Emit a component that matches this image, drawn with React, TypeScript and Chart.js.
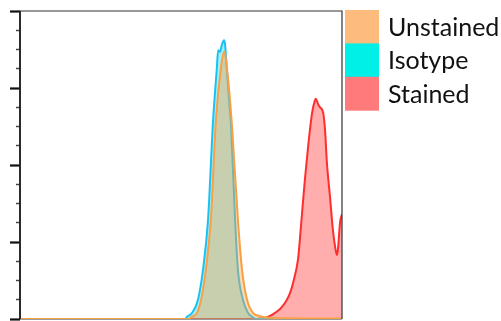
import React, { useEffect, useRef } from "react";
import { Chart, registerables } from "chart.js";

Chart.register(...registerables);

// Series labels and legend swatch colours
const seriesLabels = ["Unstained", "Isotype", "Stained"];
const legendColors = ["#fdbb7e", "#00efe6", "#ff7b7b"];
const lineColors = ["#f8a044", "#1ac2f3", "#ff2e2e"];
const fillColors = ["rgba(250,160,70,0.40)", "rgba(0,205,225,0.35)", "rgba(255,40,40,0.38)"];

// Fluorescence channel (0..1024) and event counts
const unstainedX = [0, 534, 547, 563, 576, 591, 607, 623, 639, 649, 652, 658, 668, 674, 693, 706, 722, 741, 770, 811, 900, 1024];
const unstainedY = [0, 0, 3, 8, 25, 64, 129, 258, 326, 347, 345, 326, 284, 252, 129, 64, 25, 8, 3, 1.3, 0.8, 0.8];

const isotypeX = [0, 525, 531, 547, 566, 582, 598, 614, 626, 630, 636, 642, 649, 652, 658, 665, 671, 684, 693, 709, 725, 738, 750, 1024];
const isotypeY = [0, 0, 3, 8, 25, 64, 129, 258, 326, 349, 347, 356, 362, 357, 323, 284, 252, 129, 64, 25, 8, 3, 0, 0];

const stainedX = [0, 747, 763, 779, 795, 811, 827, 843, 859, 871, 884, 890, 897, 906, 916, 929, 938, 941, 948, 954, 964, 970, 976, 986, 995, 1002, 1008, 1011, 1018, 1024];
const stainedY = [0, 0, 0.6, 1.3, 4, 8, 13, 21, 34, 51, 77, 103, 138, 181, 223, 268, 284, 286, 279, 275, 268, 246, 203, 158, 116, 94, 83, 90, 126, 136];

// Axis ranges and tick steps
const xRange = [0, 1024];
const yRange = [0, 400];
const yMajorStep = 100;
const yMinorStep = 25;

const toPoints = (xs: number[], ys: number[]) => xs.map((x, i) => ({ x, y: ys[i] }));

const framePlugin = {
  id: "frame",
  beforeDatasetsDraw(chart: any) {
    const { ctx, chartArea } = chart;
    ctx.save();
    ctx.strokeStyle = "#3a3a3a";
    ctx.lineWidth = 1.2;
    ctx.beginPath();
    ctx.moveTo(chartArea.left, chartArea.bottom);
    ctx.lineTo(chartArea.right, chartArea.bottom);
    ctx.stroke();
    ctx.restore();
  },
  afterDatasetsDraw(chart: any) {
    const { ctx, chartArea } = chart;
    ctx.save();
    ctx.strokeStyle = "#333";
    ctx.lineWidth = 1.2;
    ctx.beginPath();
    ctx.moveTo(chartArea.left, chartArea.bottom);
    ctx.lineTo(chartArea.left, chartArea.top);
    ctx.lineTo(chartArea.right, chartArea.top);
    ctx.lineTo(chartArea.right, chartArea.bottom);
    ctx.stroke();
    ctx.lineWidth = 1.8;
    ctx.strokeStyle = "#222";
    ctx.beginPath();
    ctx.moveTo(chartArea.left, chartArea.bottom);
    ctx.lineTo(chartArea.left, chartArea.top);
    ctx.stroke();
    ctx.restore();
  },
};

const legendPlugin = {
  id: "blockLegend",
  afterDraw(chart: any) {
    const { ctx, chartArea } = chart;
    const boxX = chartArea.right + 3;
    const boxW = 34;
    const boxH = 33.4;
    const top = chartArea.top - 1;
    ctx.save();
    ctx.font = '25px "Lato", "Open Sans", sans-serif';
    ctx.textBaseline = "alphabetic";
    ctx.fillStyle = "#111";
    chart.data.datasets.forEach((ds: any, i: number) => {
      const y = top + i * boxH;
      ctx.fillStyle = legendColors[i];
      ctx.fillRect(boxX, y, boxW, boxH + 0.5);
      ctx.fillStyle = "#111";
      ctx.fillText(ds.label, boxX + 43, y + boxH / 2 + 9);
    });
    ctx.restore();
  },
};

export default function App() {
  const canvasRef = useRef<HTMLCanvasElement | null>(null);

  useEffect(() => {
    const canvas = canvasRef.current;
    if (!canvas) return;
    const seriesX = [unstainedX, isotypeX, stainedX];
    const seriesY = [unstainedY, isotypeY, stainedY];
    const chart = new Chart(canvas, {
      type: "line",
      data: {
        datasets: seriesLabels.map((label, i) => ({
          label,
          data: toPoints(seriesX[i], seriesY[i]),
          borderColor: lineColors[i],
          backgroundColor: fillColors[i],
          borderWidth: 2,
          fill: "origin",
          pointRadius: 0,
          tension: 0.3,
          cubicInterpolationMode: "monotone",
        })),
      },
      options: {
        animation: false,
        responsive: true,
        maintainAspectRatio: false,
        layout: { padding: { left: 20, top: 11, right: 159, bottom: 2 } },
        plugins: { legend: { display: false }, tooltip: { enabled: false } },
        scales: {
          x: {
            type: "linear",
            min: xRange[0],
            max: xRange[1],
            ticks: { display: false },
            grid: { display: false, drawTicks: false },
            border: { display: false },
          },
          y: {
            type: "linear",
            position: "left",
            min: yRange[0],
            max: yRange[1],
            ticks: { display: false, stepSize: yMajorStep },
            grid: {
              drawOnChartArea: false,
              drawTicks: true,
              tickLength: 10,
              tickWidth: 2.2,
              tickColor: "#111",
            },
            border: { display: false },
            afterFit(scale: any) {
              scale.width = 0;
            },
          },
          yMinor: {
            type: "linear",
            position: "left",
            min: yRange[0],
            max: yRange[1],
            ticks: { display: false, stepSize: yMinorStep },
            grid: {
              drawOnChartArea: false,
              drawTicks: true,
              tickLength: 4,
              tickWidth: 1.5,
              tickColor: (c: any) => (c.tick && c.tick.value % yMajorStep === 0 ? "rgba(0,0,0,0)" : "#444"),
            },
            border: { display: false },
            afterFit(scale: any) {
              scale.width = 0;
            },
          },
        },
      },
      plugins: [framePlugin, legendPlugin],
    } as any);
    return () => chart.destroy();
  }, []);

  return (
    <div style={{ position: "absolute", left: 0, top: 0, width: 501, height: 321, background: "#fff" }}>
      <canvas ref={canvasRef} />
    </div>
  );
}
